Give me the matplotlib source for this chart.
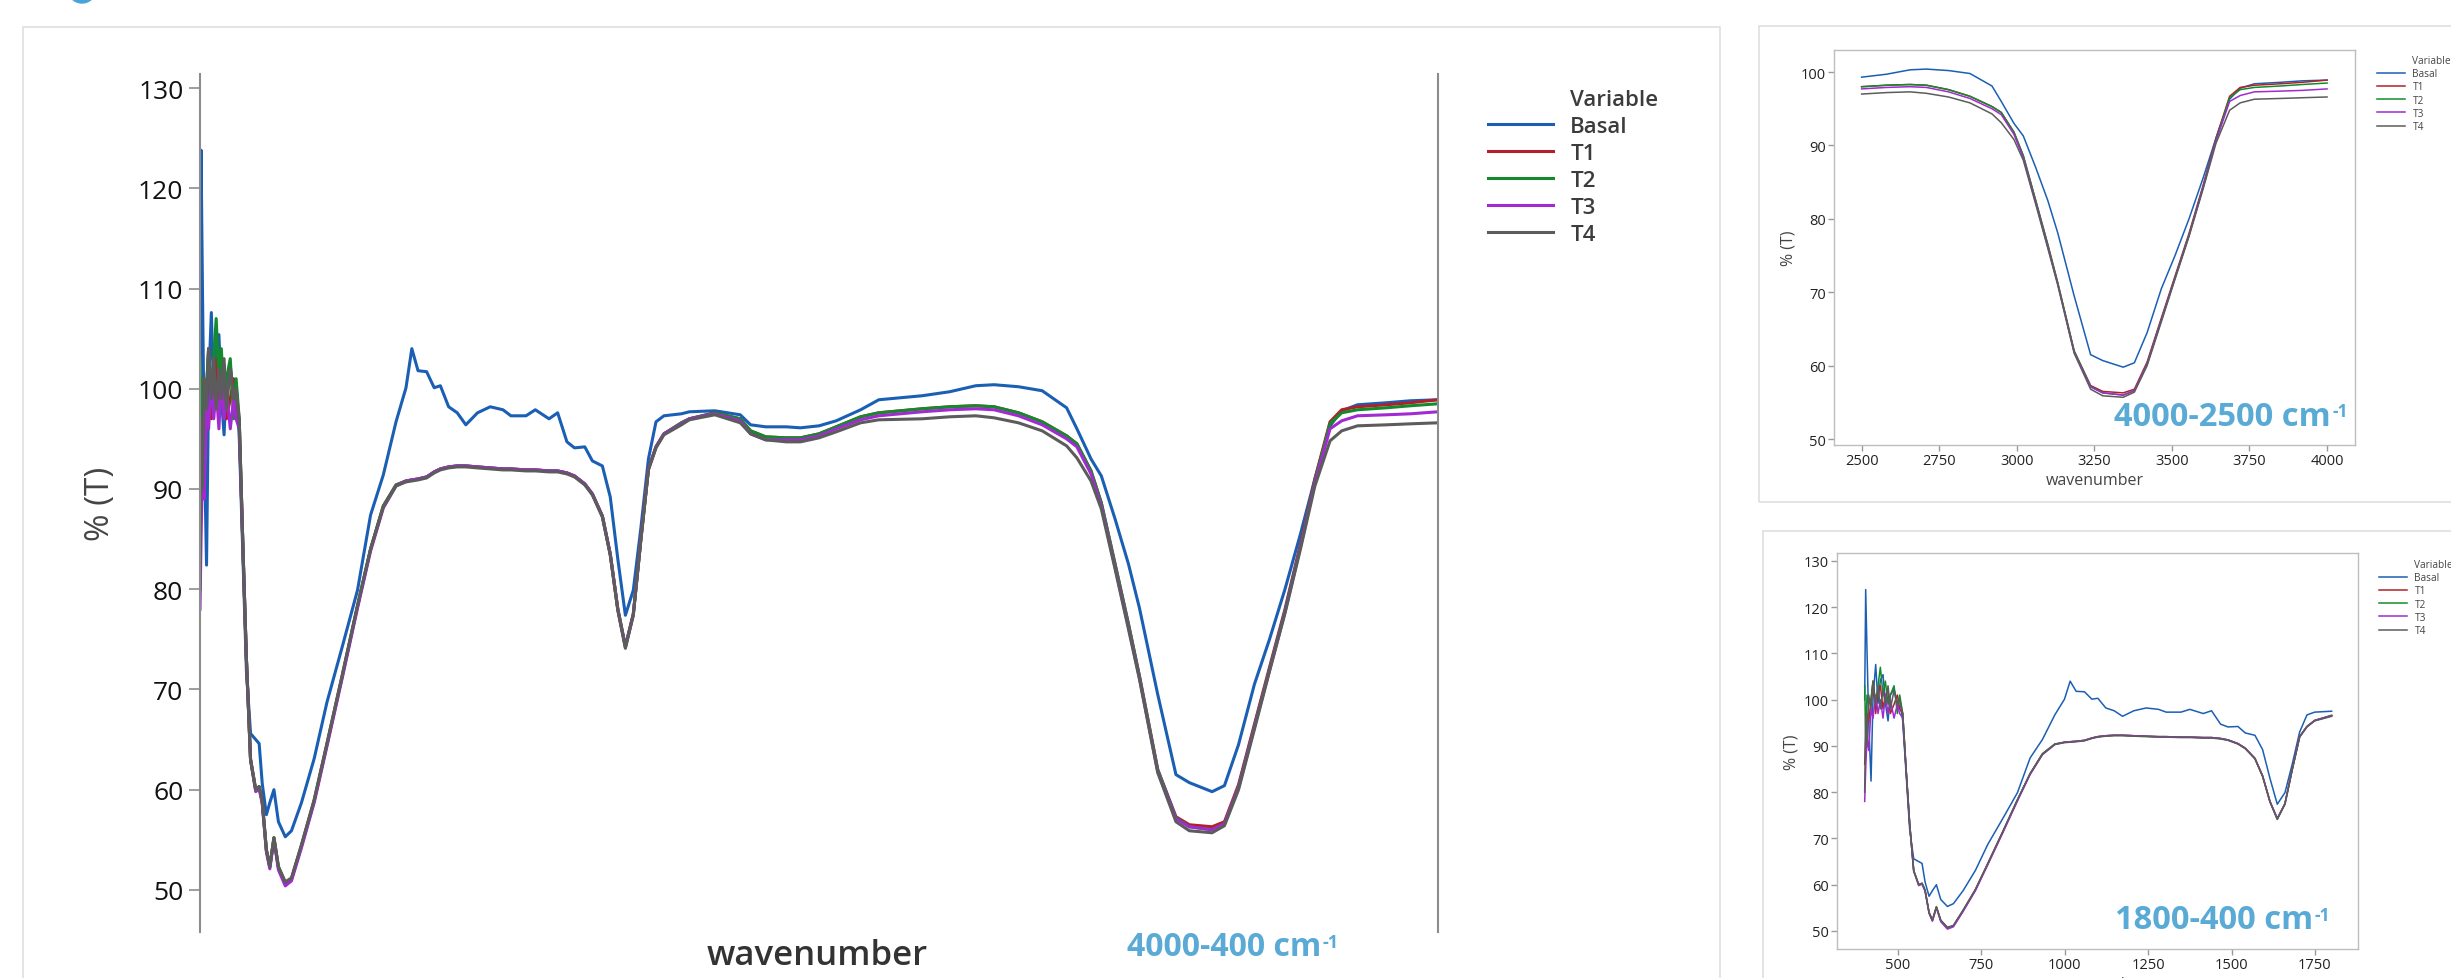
import matplotlib
matplotlib.use("Agg")
import matplotlib.pyplot as plt
from matplotlib.lines import Line2D
from matplotlib.patches import Rectangle, Ellipse

plt.rcParams["font.family"] = ["Open Sans", "DejaVu Sans"]

# FTIR spectra (wavenumber in cm-1, transmittance in %)
wavenumber = [
    400, 403, 407, 412, 419, 425, 433, 440, 447, 455,
    462, 470, 477, 488, 498, 505, 514, 525, 535, 547,
    562, 572, 581, 593, 603, 615, 628, 648, 666, 695,
    732, 769, 814, 858, 896, 933, 970, 999, 1016, 1034,
    1059, 1081, 1099, 1123, 1148, 1173, 1207, 1244, 1281, 1304,
    1348, 1375, 1415, 1440, 1467, 1489, 1519, 1541, 1570, 1593,
    1615, 1637, 1660, 1682, 1704, 1726, 1749, 1800, 1823, 1897, 1971,
    2001, 2045, 2105, 2146, 2200, 2250, 2321, 2374, 2500, 2580,
    2656, 2709, 2780, 2849, 2920, 2950, 2991, 3021, 3061, 3100,
    3132, 3185, 3238, 3277, 3343, 3379, 3420, 3466, 3510, 3555,
    3600, 3642, 3686, 3720, 3766, 3850, 3920, 4000]

basal = [
    100.0, 123.8, 110.4, 95.4, 82.4, 100.4, 107.6, 99.2, 104.2, 105.4,
    99.2, 95.4, 101.0, 102.3, 99.2, 100.4, 95.4, 83.0, 71.8, 65.6,
    65.0, 64.6, 60.6, 57.5, 58.7, 60.0, 56.8, 55.3, 55.9, 58.7,
    63.1, 68.7, 74.3, 79.9, 87.4, 91.4, 96.7, 100.1, 104.0, 101.8,
    101.7, 100.1, 100.3, 98.2, 97.6, 96.4, 97.6, 98.2, 97.9, 97.3,
    97.3, 97.9, 97.0, 97.6, 94.7, 94.1, 94.2, 92.8, 92.3, 89.2,
    83.0, 77.4, 79.9, 86.1, 93.0, 96.7, 97.3, 97.5, 97.7, 97.8, 97.4,
    96.4, 96.2, 96.2, 96.1, 96.3, 96.8, 97.9, 98.9, 99.3, 99.7,
    100.3, 100.4, 100.2, 99.8, 98.1, 96.0, 93.0, 91.3, 87.0, 82.5,
    78.1, 69.5, 61.5, 60.7, 59.8, 60.4, 64.5, 70.5, 75.0, 80.0,
    85.5, 91.0, 96.3, 97.8, 98.4, 98.6, 98.8, 98.9]

t1 = [
    86, 92, 97, 95, 100, 104, 97, 102, 103, 98,
    101, 102, 97, 99, 101, 98, 97, 84.0, 73.0, 63.0,
    60.0, 60.3, 58.8, 54.0, 52.3, 55.2, 52.3, 50.7, 51.1, 54.4,
    58.9, 64.5, 71.4, 78.3, 84.0, 88.3, 90.4, 90.8, 90.9, 91.0,
    91.2, 91.7, 92.0, 92.2, 92.3, 92.3, 92.2, 92.1, 92.0, 92.0,
    91.9, 91.9, 91.8, 91.8, 91.6, 91.3, 90.5, 89.5, 87.3, 83.5,
    78.0, 74.3, 77.5, 85.0, 92.0, 94.2, 95.5, 96.6, 97.0, 97.6, 97.0,
    95.8, 95.2, 95.1, 95.1, 95.5, 96.2, 97.2, 97.6, 98.0, 98.2,
    98.3, 98.2, 97.6, 96.7, 95.3, 94.5, 91.8, 88.6, 82.5, 76.5,
    71.3, 62.0, 57.3, 56.5, 56.3, 56.8, 60.5, 66.5, 72.2, 78.0,
    84.5, 91.0, 96.7, 97.9, 98.2, 98.4, 98.6, 98.9]

t2 = [
    103, 92, 101, 99, 100, 104, 99, 103, 107, 101,
    104, 99, 101, 103, 97, 101, 97, 84.0, 73.0, 63.0,
    60.0, 60.3, 58.8, 54.0, 52.3, 55.2, 52.3, 50.7, 51.1, 54.4,
    58.9, 64.5, 71.4, 78.3, 84.0, 88.3, 90.4, 90.8, 90.9, 91.0,
    91.2, 91.7, 92.0, 92.2, 92.3, 92.3, 92.2, 92.1, 92.0, 92.0,
    91.9, 91.9, 91.8, 91.8, 91.6, 91.3, 90.5, 89.5, 87.3, 83.5,
    78.0, 74.3, 77.5, 85.0, 92.0, 94.2, 95.5, 96.6, 97.0, 97.6, 97.0,
    95.8, 95.2, 95.1, 95.1, 95.5, 96.2, 97.2, 97.6, 98.0, 98.2,
    98.3, 98.2, 97.6, 96.7, 95.3, 94.5, 91.8, 88.6, 82.5, 76.5,
    71.3, 62.0, 57.2, 56.3, 56.0, 56.6, 60.3, 66.3, 72.0, 77.8,
    84.3, 90.8, 96.5, 97.6, 97.9, 98.1, 98.3, 98.5]

t3 = [
    78, 85, 92, 89, 98, 96, 101, 97, 100, 96,
    101, 97, 100, 96, 99, 97, 96, 84.0, 73.0, 63.0,
    59.8, 60.1, 58.6, 53.8, 52.1, 55.0, 52.0, 50.4, 50.9, 54.2,
    58.7, 64.3, 71.2, 78.1, 83.8, 88.1, 90.3, 90.8, 90.9, 91.0,
    91.2, 91.7, 92.0, 92.2, 92.3, 92.3, 92.2, 92.1, 92.0, 92.0,
    91.9, 91.9, 91.8, 91.8, 91.6, 91.3, 90.5, 89.5, 87.3, 83.5,
    78.0, 74.2, 77.5, 85.0, 92.0, 94.2, 95.5, 96.5, 97.0, 97.5, 96.8,
    95.5, 94.9, 94.9, 94.9, 95.3, 96.0, 96.9, 97.3, 97.7, 97.9,
    98.0, 97.9, 97.3, 96.4, 95.0, 94.2, 91.5, 88.3, 82.2, 76.2,
    71.1, 61.8, 57.1, 56.3, 56.0, 56.6, 60.2, 66.2, 71.9, 77.7,
    84.2, 90.6, 96.0, 96.8, 97.3, 97.4, 97.5, 97.7]

t4 = [
    80, 97, 90, 101, 98, 104, 99, 103, 98, 102,
    99, 103, 98, 102, 99, 100, 97, 84.0, 73.0, 63.0,
    60.0, 60.3, 58.8, 54.0, 52.3, 55.2, 52.3, 50.8, 51.2, 54.5,
    59.0, 64.6, 71.5, 78.4, 84.0, 88.2, 90.3, 90.7, 90.8, 90.9,
    91.1, 91.6, 91.9, 92.1, 92.2, 92.2, 92.1, 92.0, 91.9, 91.9,
    91.8, 91.8, 91.7, 91.7, 91.5, 91.2, 90.4, 89.4, 87.2, 83.4,
    77.9, 74.1, 77.4, 84.9, 91.9, 94.1, 95.4, 96.4, 96.9, 97.4, 96.6,
    95.5, 94.9, 94.7, 94.7, 95.1, 95.7, 96.6, 96.9, 97.0, 97.2,
    97.3, 97.1, 96.6, 95.8, 94.3, 93.1, 90.8, 88.0, 82.0, 76.0,
    71.0, 61.7, 56.8, 55.9, 55.7, 56.4, 60.0, 66.0, 71.8, 77.6,
    84.0, 90.3, 94.8, 95.8, 96.3, 96.4, 96.5, 96.6]

series = ["Basal", "T1", "T2", "T3", "T4"]
values = [basal, t1, t2, t3, t4]
colors = ["#1a5fb4", "#b3202a", "#138a2c", "#a12bd0", "#5c5c5c"]
tag_color = "#5aaad6"

W, H = 2451, 979
fig = plt.figure(figsize=(W / 100, H / 100), dpi=100)


def box(x0, y0, x1, y1):
    # pixel box (top-left origin) -> figure fraction rect
    return [x0 / W, 1 - y1 / H, (x1 - x0) / W, (y1 - y0) / H]


def frame(x0, y0, x1, y1):
    r = box(x0, y0, x1, y1)
    fig.add_artist(Rectangle((r[0], r[1]), r[2], r[3], transform=fig.transFigure,
                             fill=False, ec="#dcdcdc", lw=1.1))


def range_tag(ax, x, y, base, size, sup_size, ha):
    t = fig.text(x / W, 1 - y / H, base, ha=ha, va="center", fontsize=size,
                 fontweight="bold", color=tag_color)
    ax.annotate("-1", xy=(1.0, 0.93), xycoords=t, xytext=(1, 0),
                textcoords="offset points", ha="left", va="top",
                fontsize=sup_size, fontweight="bold", color=tag_color)
    return t


frame(23, 28, 1720, 1010)
frame(1759, 27, 2470, 503)
frame(1763, 532, 2470, 1010)
fig.add_artist(Ellipse((82 / W, 1 + 10 / H), 28 / W, 28 / H, transform=fig.transFigure,
                       color="#4aa3d8"))

# main panel, 4000-400
ax = fig.add_axes(box(200, 75, 1438, 933))
lines = []
for name, v, c in zip(series, values, colors):
    ln, = ax.plot(wavenumber, v, color=c, lw=2.2, label=name)
    lines.append(ln)
ax.set_xlim(400, 4000)
ax.set_ylim(45.8, 131.4)
ax.set_yticks(range(50, 131, 10))
ax.set_xticks([])
ax.spines["top"].set_visible(False)
ax.spines["bottom"].set_visible(False)
for s in ["left", "right"]:
    ax.spines[s].set_color("#8c8c8c")
    ax.spines[s].set_linewidth(1.5)
ax.tick_params(axis="y", length=8, width=1.2, color="#8c8c8c", labelsize=19,
               pad=4, labelcolor="#111111")

fig.text(100 / W, 1 - 504 / H, "% (T)", rotation=90, ha="center", va="center",
         fontsize=24, color="#444444")
fig.text(817 / W, 1 - 956 / H, "wavenumber", ha="center", va="center",
         fontsize=25, fontweight="semibold", color="#333333")
range_tag(ax, 1127, 948, "4000-400 cm", 23, 13, "left")

handles = [Line2D([], [], color="none")] + lines
labels = ["Variable"] + series
leg = ax.legend(handles, labels, loc="upper left", bbox_to_anchor=(1488 / W, 1 - 90 / H),
                bbox_transform=fig.transFigure, frameon=False, handlelength=2.93,
                handletextpad=0.77, labelspacing=0.27, borderpad=0, borderaxespad=0,
                prop={"size": 16, "weight": "semibold"})
for t in leg.get_texts():
    t.set_color("#3c3c3c")


def inset(rect, keep, xlim, ylim, xticks, yticks, tag, tag_xy, leg_xy):
    a = fig.add_axes(box(*rect))
    hs = []
    for name, v, c in zip(series, values, colors):
        xs = [w for w in wavenumber if keep(w)]
        ys = [y for w, y in zip(wavenumber, v) if keep(w)]
        ln, = a.plot(xs, ys, color=c, lw=1.1)
        hs.append(ln)
    a.set_xlim(*xlim)
    a.set_ylim(*ylim)
    a.set_xticks(xticks)
    a.set_yticks(yticks)
    for s in a.spines.values():
        s.set_color("#bdbdbd")
        s.set_linewidth(1)
    a.tick_params(length=4, width=1, color="#999999", labelsize=10.5,
                  labelcolor="#222222", pad=2)
    a.set_xlabel("wavenumber", fontsize=11.5, color="#444444", labelpad=3)
    a.set_ylabel("% (T)", fontsize=11.5, color="#444444", labelpad=3)
    range_tag(a, tag_xy[0], tag_xy[1], tag, 23.5, 12.5, "right")
    lg = a.legend([Line2D([], [], color="none")] + hs, ["Variable"] + series,
                  loc="upper left", bbox_to_anchor=(leg_xy[0] / W, 1 - leg_xy[1] / H),
                  bbox_transform=fig.transFigure, frameon=False, handlelength=2.8,
                  handletextpad=0.7, labelspacing=0.22, borderpad=0, borderaxespad=0,
                  prop={"size": 7.3})
    for t in lg.get_texts():
        t.set_color("#444444")
    return a


inset((1834, 51, 2355, 446), lambda w: w >= 2500, (2411, 4090), (49.2, 103),
      range(2500, 4001, 250), range(50, 101, 10),
      "4000-2500 cm", (2331, 417), (2377, 56))
inset((1837, 554, 2358, 950), lambda w: w <= 1800, (317, 1879), (46.1, 131.7),
      range(500, 1751, 250), range(50, 131, 10),
      "1800-400 cm", (2313, 921), (2379, 560))

fig.savefig("out.png", dpi=100)
